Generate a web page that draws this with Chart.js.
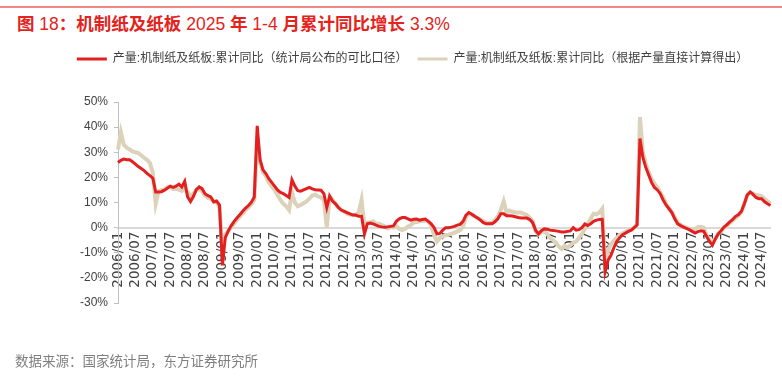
<!DOCTYPE html>
<html>
<head>
<meta charset="utf-8">
<script src="https://cdn.jsdelivr.net/npm/chart.js@4.4.0/dist/chart.umd.min.js"></script>
<style>
  body { margin: 0; background: #fff; }
  #wrap { position: relative; width: 782px; height: 379px; overflow: hidden; }
  #topline { position: absolute; left: 0; top: 6px; width: 782px; height: 2px; background: #ef8a86; }
  #title { position: absolute; left: 17px; top: 10px; line-height: 20px; font: bold 17.5px 'Noto Sans CJK SC', sans-serif; color: #e3231c; white-space: nowrap; }
  #title .n { font-family: 'Liberation Sans', sans-serif; font-weight: normal; }
  #source { position: absolute; left: 15px; top: 351px; line-height: 18px; font-size: 13.5px; font-family: 'Noto Sans CJK SC', sans-serif; color: #7f7f7f; white-space: nowrap; }
  canvas { position: absolute; left: 0; top: 0; }
</style>
</head>
<body>
<div id="wrap">
  <div id="topline"></div>
  <div id="title">图<span class="n"> 18</span>：机制纸及纸板<span class="n"> 2025 </span>年<span class="n"> 1-4 </span>月累计同比增长<span class="n"> 3.3%</span></div>
  <canvas id="myChart" width="782" height="379"></canvas>
  <div id="source">数据来源：国家统计局，东方证券研究所</div>
</div>
<script>
// months 2006/01 .. 2024/10
var firstYear = 2006;
var monthCount = 226;
var months = [];
for (var k = 0; k < monthCount; k++) {
  var yy = firstYear + Math.floor(k / 12);
  var mm = (k % 12) + 1;
  months.push(yy + '/' + (mm < 10 ? '0' + mm : mm));
}

var seriesNames = [
  '产量:机制纸及纸板:累计同比（统计局公布的可比口径）',
  '产量:机制纸及纸板:累计同比（根据产量直接计算得出）'
];

// 统计局公布的可比口径, %
var officialYoY = [
  25.9, 26.8, 27.3, 27, 27, 26.2, 25.3, 24.3, 23.5, 22.7, 21.6, 20.7,
  19.7, 14.2, 14.2, 14.3, 14.9, 15.7, 16.5, 16, 16.5, 17.3, 16.2, 18.4,
  12.2, 10.4, 12.4, 15.1, 16.2, 15.5, 13.5, 12.7, 12.2, 10.2, 10.6, 9,
  -15, -4, -1.4, 0.7, 2.4, 3.8, 5.1, 6.5, 7.8, 8.8, 10.1, 12.2,
  40.5, 27, 23, 21.5, 19.5, 18, 16.5, 15, 14, 13.5, 12.8, 12,
  19, 16.5, 14.7, 14.5, 15, 15.5, 16, 15.4, 15.1, 15, 14.9, 13.5,
  8, 12.5, 10.5, 9.5, 8, 7, 6.5, 6, 5.5, 5, 5, 4.5,
  4.5, -2.5, 1.5, 1.8, 1.5, 1, 0.5, 0.3, 0.2, 0.3, 0.5, 0.7,
  2.5, 3.5, 4, 4, 3.5, 3, 3.3, 3.4, 3, 3.2, 3.4, 2.5,
  1.5, 0, -2.5, -2.3, -1, 0, 0, 0.2, 0.5, 1, 1.3, 2.5,
  5, 6, 5.3, 4.5, 3.8, 3, 2, 1.5, 1.5, 1.5, 2.3, 3.5,
  5.5, 5.5, 4.7, 4.7, 4.6, 4.3, 4, 3.8, 3.8, 3.8, 3.2, 2,
  -1, -2.5, -1.2, -0.5, -0.6, -1, -1.1, -1.3, -1.5, -1.7, -1.7, -1.5,
  -1.3, 0, -1, -0.8, 0, 1.5, 0.8, 1.5, 2.5, 3, 3.2, 3.3,
  -17.5, -13, -11, -8, -5.5, -4, -2.8, -2.2, -1.5, -1, 0, 1,
  35.5, 28, 24, 21, 18, 16, 15, 13.5, 11, 9, 7.5, 6,
  3.5, 1.5, 0.8, 0.2, -0.3, -0.8, -1.5, -2.2, -1.6, -1.3, -1.5, -3.5,
  -5.5, -7, -4.5, -2.5, -1.2, 0.2, 1.2, 2.3, 3.3, 4.5, 5.2, 6.5,
  9.5, 13, 14.2, 13.2, 12, 11.5, 11.5, 10.3, 9.5, 8.8
];

// 根据产量直接计算得出, %
var calcYoY = [
  31.1, 38, 33, 31.8, 31.1, 30.3, 30, 29.7, 28.8, 27.8, 27, 25.7,
  22, 9.5, 14.5, 14.9, 15.1, 16, 16.2, 15.4, 15.5, 15.1, 14.6, 15.5,
  14.2, 12.4, 13.5, 14.9, 15.4, 14.5, 12.8, 11.8, 11.5, 10.5, 10.1, 8,
  -9, -2.7, -1.4, 0, 1.6, 3, 4.3, 5.7, 7, 8.1, 9.2, 11,
  35, 26, 22, 20.5, 18, 16.5, 15, 13, 11, 9.5, 8.5, 7,
  14, 10, 8.5, 9, 9.7, 10.4, 11.5, 12.8, 13.1, 12.4, 12, 11,
  0, 12.5, 11, 9.5, 8, 7, 6.5, 5.5, 5.2, 5, 5, 6,
  11, 0.5, 2, 2, 2.5, 1.5, 1.5, 1, 0.5, -0.3, 0.3, 0,
  0.5, -0.5, -1, -0.5, 0.5, 1, 2, 2.2, 2.5, 2.7, 2.8, 2.5,
  1, -3, -5.5, -4, -3.5, -3, -2.8, -2.5, -2, -1.5, -1, 0.5,
  4, 5.8, 5.2, 4.5, 3.8, 3.2, 2.5, 2, 1.8, 1.8, 3, 4.5,
  7, 10.5, 6, 6.8, 6.3, 6.1, 6, 6, 5.5, 5, 4, 2.5,
  -1.5, -2.7, -1.8, -1.5, -2.5, -4.2, -5, -6, -7.5, -8.5, -7.2, -8,
  -7, -6, -5.5, -4, -2.5, -0.5, 1.5, 3.5, 5.5, 5.3, 6, 7.5,
  -15, -9, -6.5, -5.3, -4, -3, -2.3, -1.7, -1.2, -0.7, 0, 1.4,
  44, 30, 25.5, 22, 19.5, 17.5, 16, 14, 12, 9.5, 7.8, 6.2,
  4, 2, 1.2, 0.5, 0, -0.5, -1, -0.5, 0.2, 0.3, 0, -3,
  -5, -6.5, -4.2, -2.5, -1.5, 0, 0.8, 1.8, 2.8, 3.8, 4.8, 6.2,
  9.5, 13, 14, 13.5, 13, 12.8, 12.5, 11.5, 10.5, 9.6
];

var yMin = -30, yMax = 50, yStep = 10;

var ctx = document.getElementById('myChart').getContext('2d');
var myChart = new Chart(ctx, {
  type: 'line',
  data: {
    labels: months,
    datasets: [{
      label: seriesNames[0],
      data: officialYoY,
      borderColor: '#e31f1f',
      backgroundColor: '#e31f1f',
      borderWidth: 3,
      pointRadius: 0,
      tension: 0
    }, {
      label: seriesNames[1],
      data: calcYoY,
      borderColor: '#dcd2b9',
      backgroundColor: '#dcd2b9',
      borderWidth: 4,
      pointRadius: 0,
      tension: 0
    }]
  },
  options: {
    responsive: false,
    animation: false,
    devicePixelRatio: 1,
    layout: { padding: { top: 43, left: 48, right: 5, bottom: 76 } },
    plugins: {
      tooltip: { enabled: false },
      // empty subtitle under the legend, just a spacer
      subtitle: {
        display: true,
        text: '',
        weight: 500,
        font: { size: 10 },
        padding: { top: 15, bottom: 0 }
      },
      legend: {
        position: 'top',
        labels: {
          boxWidth: 30,
          boxHeight: 3,
          padding: 10,
          color: '#404040',
          font: { size: 12, family: "'Liberation Sans', 'Noto Sans CJK SC', sans-serif" },
          generateLabels: function(chart) {
            var items = Chart.defaults.plugins.legend.labels.generateLabels(chart);
            items.forEach(function(it) {
              it.fillStyle = it.strokeStyle;
              it.lineWidth = 0;
            });
            return items;
          }
        }
      }
    },
    scales: {
      x: {
        type: 'category',
        position: { y: 0 },
        grid: { display: true, drawOnChartArea: false, drawTicks: false },
        border: { display: true, color: '#d9d9d9', width: 2 },
        ticks: {
          autoSkip: false,
          minRotation: 90,
          maxRotation: 90,
          padding: 4,
          color: '#404040',
          font: { size: 13.5, family: "'DejaVu Sans', sans-serif" },
          callback: function(value) {
            var lab = this.getLabelForValue(value);
            if (lab.slice(-3) == '/01' || lab.slice(-3) == '/07') return lab;
            return null;
          }
        }
      },
      y: {
        min: yMin,
        max: yMax,
        afterFit: function(s) { s.width = 70; },
        grid: { display: true, drawOnChartArea: false, drawTicks: true, tickLength: 4, color: '#bfbfbf' },
        border: { display: true, color: '#bfbfbf', width: 1 },
        ticks: {
          stepSize: yStep,
          padding: 6,
          color: '#404040',
          font: { size: 12, family: "'Liberation Sans', sans-serif" },
          callback: function(v) { return v + '%'; }
        }
      }
    }
  }
});
</script>
</body>
</html>
